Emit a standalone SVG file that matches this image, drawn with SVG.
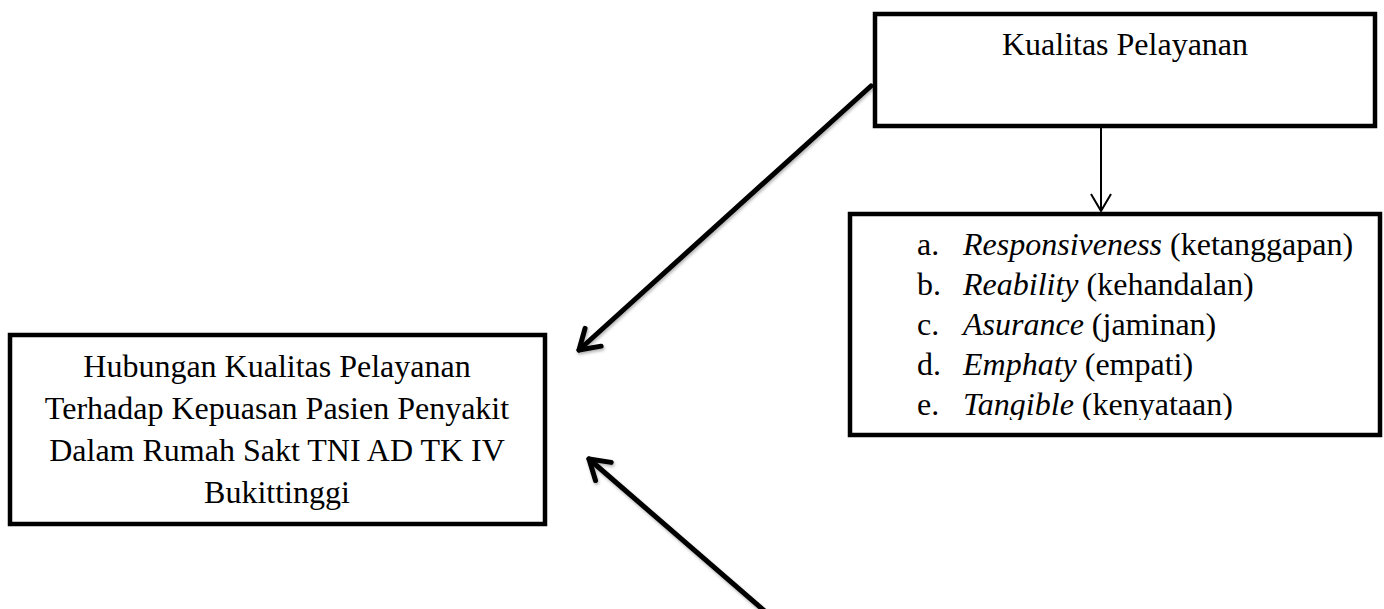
<svg xmlns="http://www.w3.org/2000/svg" width="1384" height="609" viewBox="0 0 1384 609">
  <style>
    .box { fill: #ffffff; stroke: #000000; stroke-width: 4.5; }
    .t { font-family: "Liberation Serif", "Times New Roman", serif; font-size: 32px; fill: #000000; }
    .it { font-style: italic; }
    .thick { fill: none; stroke: #000000; stroke-width: 5; stroke-linecap: round; }
    .thin { fill: none; stroke: #000000; stroke-width: 2; }
  </style>
  <defs>
    <marker id="headThick" markerUnits="userSpaceOnUse" viewBox="-30 -20 40 40" refX="0" refY="0" markerWidth="40" markerHeight="40" orient="auto">
      <path d="M -19 -12 L 0 0 L -19 12" fill="none" stroke="#000000" stroke-width="5" stroke-linecap="round" stroke-linejoin="round"/>
    </marker>
    <marker id="headThin" markerUnits="userSpaceOnUse" viewBox="-20 -12 24 24" refX="0" refY="0" markerWidth="24" markerHeight="24" orient="auto">
      <path d="M -17 -10 L 0 0 L -17 10" fill="none" stroke="#000000" stroke-width="2"/>
    </marker>
    <filter id="shadow" x="-20%" y="-20%" width="140%" height="140%">
      <feDropShadow dx="1" dy="2" stdDeviation="1.5" flood-color="#000000" flood-opacity="0.3"/>
    </filter>
    <clipPath id="listClip">
      <rect x="853" y="217" width="524" height="203"/>
    </clipPath>
  </defs>

  <g id="connectors">
    <line class="thick" x1="871" y1="86" x2="579" y2="350" marker-end="url(#headThick)" filter="url(#shadow)"/>
    <line class="thick" x1="775" y1="620" x2="589" y2="459" marker-end="url(#headThick)" filter="url(#shadow)"/>
    <line class="thin" x1="1101" y1="128" x2="1101" y2="211" marker-end="url(#headThin)"/>
  </g>

  <g id="node-kualitas">
    <rect class="box" x="875" y="14" width="500" height="112"/>
    <text class="t" x="1125" y="55" text-anchor="middle">Kualitas Pelayanan</text>
  </g>

  <g id="node-dimensi">
    <rect class="box" x="850" y="214" width="530" height="221"/>
    <g clip-path="url(#listClip)">
      <text class="t" x="917" y="255">a.</text>
      <text class="t" x="963" y="255"><tspan class="it">Responsiveness</tspan> (ketanggapan)</text>
      <text class="t" x="917" y="295">b.</text>
      <text class="t" x="963" y="295"><tspan class="it">Reability</tspan> (kehandalan)</text>
      <text class="t" x="917" y="335">c.</text>
      <text class="t" x="963" y="335"><tspan class="it">Asurance</tspan> (jaminan)</text>
      <text class="t" x="917" y="375">d.</text>
      <text class="t" x="963" y="375"><tspan class="it">Emphaty</tspan> (empati)</text>
      <text class="t" x="917" y="415">e.</text>
      <text class="t" x="963" y="415"><tspan class="it">Tangible</tspan> (kenyataan)</text>
    </g>
  </g>

  <g id="node-hubungan">
    <rect class="box" x="10" y="335" width="535" height="189"/>
    <text class="t" x="277" y="377" text-anchor="middle">Hubungan Kualitas Pelayanan</text>
    <text class="t" x="277" y="419" text-anchor="middle">Terhadap Kepuasan Pasien Penyakit</text>
    <text class="t" x="277" y="461" text-anchor="middle">Dalam Rumah Sakt TNI AD TK IV</text>
    <text class="t" x="277" y="503" text-anchor="middle">Bukittinggi</text>
  </g>
</svg>
